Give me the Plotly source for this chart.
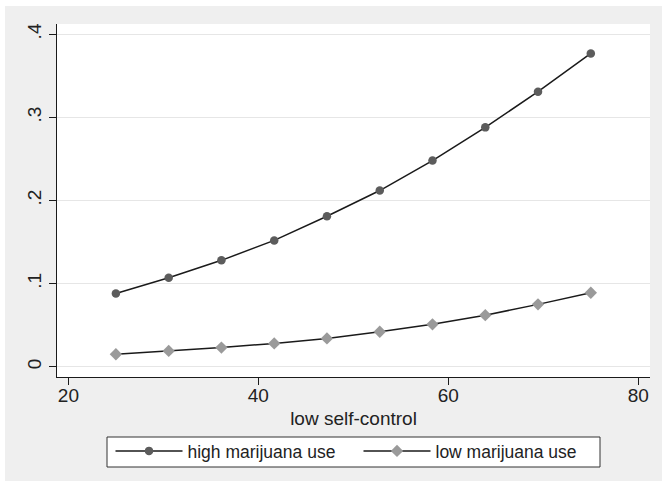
import plotly.graph_objects as go

# Predicted probability by level of low self-control
self_control = [25.0, 30.56, 36.11, 41.67, 47.22, 52.78, 58.33, 63.89, 69.44, 75.0]
high_use = [0.088, 0.107, 0.128, 0.152, 0.181, 0.212, 0.248, 0.288, 0.331, 0.377]
low_use = [0.015, 0.019, 0.023, 0.028, 0.034, 0.042, 0.051, 0.062, 0.075, 0.089]

y_ticks = [0, 0.1, 0.2, 0.3, 0.4]
y_tick_text = ["0", ".1", ".2", ".3", ".4"]
x_ticks = [20, 40, 60, 80]

FONT = "Liberation Sans, Arial, Helvetica, sans-serif"
BG = "#efefef"

fig = go.Figure()
fig.add_trace(go.Scatter(
    x=self_control, y=high_use, mode="lines+markers", name="high marijuana use",
    line=dict(color="#1a1a1a", width=1.5),
    marker=dict(symbol="circle", size=8.5, color="#5c5c5c"),
))
fig.add_trace(go.Scatter(
    x=self_control, y=low_use, mode="lines+markers", name="low marijuana use",
    line=dict(color="#1a1a1a", width=1.5),
    marker=dict(symbol="diamond", size=9.5, color="#9a9a9a"),
))

L, R, T, B = 57, 12, 24, 104
W, H = 662, 481
pw, ph = W - L - R, H - T - B


def px_x(px):
    return (px - L) / pw


def px_y(py):
    return (T + ph - py) / ph


# thin white border strip along the top and left edges of the page
fig.add_shape(type="rect", xref="paper", yref="paper", layer="below",
              x0=-0.3, x1=1.3, y0=px_y(6), y1=1.3,
              fillcolor="white", line=dict(width=0))
fig.add_shape(type="rect", xref="paper", yref="paper", layer="below",
              x0=-0.3, x1=px_x(5), y0=-0.5, y1=1.3,
              fillcolor="white", line=dict(width=0))
# legend frame
fig.add_shape(type="rect", xref="paper", yref="paper", layer="above",
              x0=px_x(107), x1=px_x(600), y0=px_y(467), y1=px_y(437),
              fillcolor="white", line=dict(color="#333333", width=1))

fig.update_layout(
    width=W, height=H,
    margin=dict(l=L, r=R, t=T, b=B, autoexpand=False),
    paper_bgcolor=BG, plot_bgcolor="white",
    font=dict(family=FONT, size=18, color="#222222"),
    showlegend=True,
    legend=dict(
        orientation="h", x=px_x(358.5), xanchor="center", y=px_y(433),
        yanchor="top", bgcolor="rgba(0,0,0,0)", borderwidth=0,
        font=dict(size=17.5, family=FONT, color="#222222"),
        itemwidth=67, entrywidth=166, tracegroupgap=0,
    ),
)
fig.update_xaxes(
    range=[18.8, 81.23], tickvals=x_ticks, showgrid=False, zeroline=False,
    showline=True, linecolor="#1a1a1a", linewidth=1,
    ticks="outside", ticklen=7, tickcolor="#1a1a1a", tickwidth=1,
    tickfont=dict(size=19), ticklabelstandoff=-6,
    title=dict(text="low self-control", font=dict(size=19), standoff=6),
)
fig.update_yaxes(
    range=[-0.0124, 0.4124], tickvals=y_ticks, ticktext=y_tick_text,
    tickangle=-90, showgrid=True, gridcolor="#e6e6e6", gridwidth=1.2, zeroline=False,
    showline=True, linecolor="#1a1a1a", linewidth=1,
    ticks="outside", ticklen=7, tickcolor="#1a1a1a", tickwidth=1,
    tickfont=dict(size=19),
)

fig.write_html("out.html")
